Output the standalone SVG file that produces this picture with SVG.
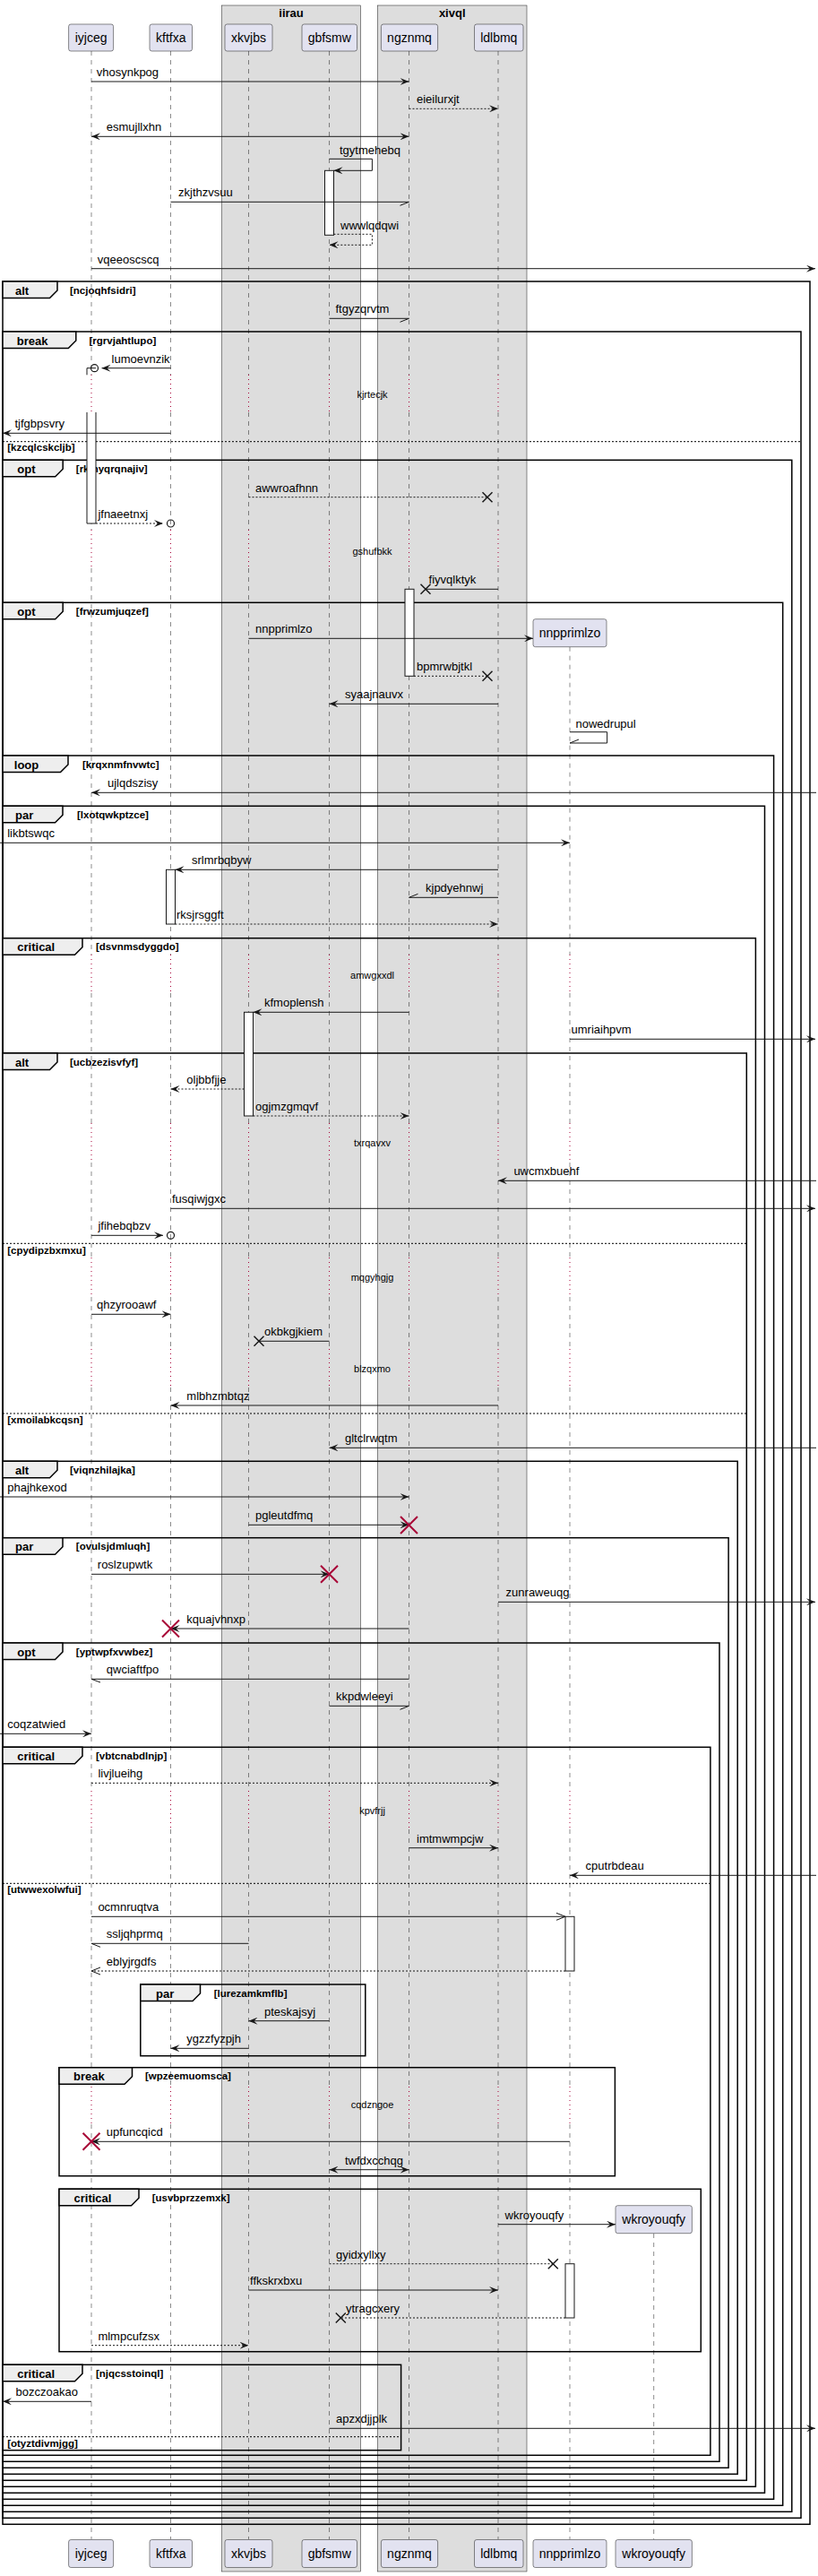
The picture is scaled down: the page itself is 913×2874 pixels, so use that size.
<svg xmlns="http://www.w3.org/2000/svg" width="913" height="2874" viewBox="0 0 913 2874">
<style>
.bg{fill:#fff}
.box{fill:#DDDDDD;stroke:#181818;stroke-width:0.5}
.bt{font-family:"Liberation Sans",Arial,sans-serif;font-size:13px;font-weight:bold;text-anchor:middle;fill:#000}
.ll{fill:none;stroke:#181818;stroke-width:0.5;stroke-dasharray:5,5}
.dl{fill:none;stroke:#A80036;stroke-width:1;stroke-dasharray:1,4}
.pr{fill:#E2E2F0;stroke:#181818;stroke-width:0.5}
.pt{font-family:"Liberation Sans",Arial,sans-serif;font-size:14px;text-anchor:middle;fill:#000}
.fr{fill:none;stroke:#000;stroke-width:1.5}
.tab{fill:#EEEEEE;stroke:#000;stroke-width:1.5}
.tn{font-family:"Liberation Sans",Arial,sans-serif;font-size:13px;font-weight:bold;fill:#000}
.cd{font-family:"Liberation Sans",Arial,sans-serif;font-size:11.5px;font-weight:bold;fill:#000}
.el{fill:none;stroke:#000;stroke-width:1;stroke-dasharray:2,2}
.act{fill:#fff;stroke:#181818;stroke-width:1}
.m{fill:none;stroke:#181818;stroke-width:1}
.d{stroke-dasharray:2,2}
.ml{font-family:"Liberation Sans",Arial,sans-serif;font-size:13px;fill:#000}
.dt{font-family:"Liberation Sans",Arial,sans-serif;font-size:11px;fill:#000;text-anchor:middle}
.x{fill:none;stroke:#181818;stroke-width:1.5}
.dx{fill:none;stroke:#A80036;stroke-width:2}
.ci{fill:none;stroke:#181818;stroke-width:1.2}
</style>
<defs>
<marker id="af" viewBox="0 0 10 8" refX="10" refY="4" markerWidth="10" markerHeight="8" orient="auto-start-reverse" markerUnits="userSpaceOnUse">
<path d="M0,0 L10,4 L0,8 L4,4 Z" fill="#181818"/>
</marker>
<marker id="ao" viewBox="0 0 12 10" refX="11" refY="5" markerWidth="12" markerHeight="10" orient="auto-start-reverse" markerUnits="userSpaceOnUse">
<path d="M1,1 L11,5 L1,9" fill="none" stroke="#181818" stroke-width="1"/>
</marker>
</defs>
<rect class="bg" x="0" y="0" width="913" height="2874"/>

<g id="boxes">
<rect class="box" x="247.5" y="6" width="155" height="2863"/>
<text class="bt" x="325" y="19">iirau</text>
<rect class="box" x="421.3" y="6" width="166.7" height="2863"/>
<text class="bt" x="504.7" y="19">xivql</text>
</g>

<g id="lifelines">
<path class="ll" d="M102,57V418M102,460V591M102,634V1065M102,1108V1253M102,1297V1403M102,1447V1505M102,1548V1998M102,2041V2328M102,2370V2833"/>
<path class="ll" d="M190.5,57V418M190.5,460V591M190.5,634V1065M190.5,1108V1253M190.5,1297V1403M190.5,1447V1505M190.5,1548V1998M190.5,2041V2328M190.5,2370V2833"/>
<path class="ll" d="M277.5,57V418M277.5,460V591M277.5,634V1065M277.5,1108V1253M277.5,1297V1403M277.5,1447V1505M277.5,1548V1998M277.5,2041V2328M277.5,2370V2833"/>
<path class="ll" d="M367.5,57V418M367.5,460V591M367.5,634V1065M367.5,1108V1253M367.5,1297V1403M367.5,1447V1505M367.5,1548V1998M367.5,2041V2328M367.5,2370V2833"/>
<path class="ll" d="M456.5,57V418M456.5,460V591M456.5,634V1065M456.5,1108V1253M456.5,1297V1403M456.5,1447V1505M456.5,1548V1998M456.5,2041V2328M456.5,2370V2833"/>
<path class="ll" d="M556,57V418M556,460V591M556,634V1065M556,1108V1253M556,1297V1403M556,1447V1505M556,1548V1998M556,2041V2328M556,2370V2833"/>
<path class="ll" d="M636,721.7V1065M636,1108V1253M636,1297V1403M636,1447V1505M636,1548V1998M636,2041V2328M636,2370V2833"/>
<path class="ll" d="M729.7,2492V2833"/>
<path class="dl" d="M102,418V460M102,591V634M102,1065V1108M102,1253V1297M102,1403V1447M102,1505V1548M102,1998V2041M102,2328V2370"/>
<path class="dl" d="M190.5,418V460M190.5,591V634M190.5,1065V1108M190.5,1253V1297M190.5,1403V1447M190.5,1505V1548M190.5,1998V2041M190.5,2328V2370"/>
<path class="dl" d="M277.5,418V460M277.5,591V634M277.5,1065V1108M277.5,1253V1297M277.5,1403V1447M277.5,1505V1548M277.5,1998V2041M277.5,2328V2370"/>
<path class="dl" d="M367.5,418V460M367.5,591V634M367.5,1065V1108M367.5,1253V1297M367.5,1403V1447M367.5,1505V1548M367.5,1998V2041M367.5,2328V2370"/>
<path class="dl" d="M456.5,418V460M456.5,591V634M456.5,1065V1108M456.5,1253V1297M456.5,1403V1447M456.5,1505V1548M456.5,1998V2041M456.5,2328V2370"/>
<path class="dl" d="M556,418V460M556,591V634M556,1065V1108M556,1253V1297M556,1403V1447M556,1505V1548M556,1998V2041M556,2328V2370"/>
<path class="dl" d="M636,1065V1108M636,1253V1297M636,1403V1447M636,1505V1548M636,1998V2041M636,2328V2370"/>
</g>

<g id="delays">
<text class="dt" x="415.5" y="444">kjrtecjk</text>
<text class="dt" x="415.5" y="618.5">gshufbkk</text>
<text class="dt" x="415.5" y="1091.5">amwgxxdl</text>
<text class="dt" x="415.5" y="1279">txrqavxv</text>
<text class="dt" x="415.5" y="1429">mqgyhgjg</text>
<text class="dt" x="415.5" y="1530.5">blzqxmo</text>
<text class="dt" x="415.5" y="2024">kpvfrjj</text>
<text class="dt" x="415.5" y="2351.5">cqdzngoe</text>
</g>

<g id="fragments">
<rect class="fr" x="3" y="314" width="901" height="2502.3"/>
<path class="tab" d="M3,314H64V324L55.5,332.5H3Z"/><text class="tn" x="17" y="328.5">alt</text><text class="cd" x="78" y="327.5">[ncjoqhfsidri]</text>

<rect class="fr" x="3" y="370" width="891" height="2439.3"/>
<path class="tab" d="M3,370H84.8V380L76.3,388.5H3Z"/><text class="tn" x="18.7" y="384.5">break</text><text class="cd" x="99.5" y="383.5">[rgrvjahtlupo]</text>
<line class="el" x1="3" y1="492.7" x2="894" y2="492.7"/><text class="cd" x="8.2" y="503">[kzcqlcskcljb]</text>

<rect class="fr" x="3" y="513.3" width="880.8" height="2289"/>
<path class="tab" d="M3,513.3H70.2V523.3L61.7,531.8H3Z"/><text class="tn" x="19.3" y="527.8">opt</text><text class="cd" x="84.8" y="526.8">[rkmyqrqnajiv]</text>

<rect class="fr" x="3" y="672.3" width="870.7" height="2123"/>
<path class="tab" d="M3,672.3H70.2V682.3L61.7,690.8H3Z"/><text class="tn" x="19.3" y="686.8">opt</text><text class="cd" x="84.8" y="685.8">[frwzumjuqzef]</text>

<rect class="fr" x="3" y="843" width="860.6" height="1945.3"/>
<path class="tab" d="M3,843H76V853L67.5,861.5H3Z"/><text class="tn" x="15.8" y="857.5">loop</text><text class="cd" x="91.9" y="856.5">[krqxnmfnvwtc]</text>

<rect class="fr" x="3" y="899.3" width="850.5" height="1882"/>
<path class="tab" d="M3,899.3H70V909.3L61.5,917.8H3Z"/><text class="tn" x="17" y="913.8">par</text><text class="cd" x="86" y="912.8">[lxotqwkptzce]</text>

<rect class="fr" x="3" y="1046.7" width="840.4" height="1727.6"/>
<path class="tab" d="M3,1046.7H92V1056.7L83.5,1065.2H3Z"/><text class="tn" x="19.3" y="1061.2">critical</text><text class="cd" x="107" y="1060.2">[dsvnmsdyggdo]</text>

<rect class="fr" x="3" y="1175" width="830.3" height="1592.3"/>
<path class="tab" d="M3,1175H64V1185L55.5,1193.5H3Z"/><text class="tn" x="17" y="1189.5">alt</text><text class="cd" x="78" y="1188.5">[ucbzezisvfyf]</text>
<line class="el" x1="3" y1="1387.3" x2="833.3" y2="1387.3"/><text class="cd" x="8.2" y="1398.5">[cpydipzbxmxu]</text>
<line class="el" x1="3" y1="1577" x2="833.3" y2="1577"/><text class="cd" x="8.2" y="1588">[xmoilabkcqsn]</text>

<rect class="fr" x="3" y="1630.3" width="820.2" height="1130"/>
<path class="tab" d="M3,1630.3H64V1640.3L55.5,1648.8H3Z"/><text class="tn" x="17" y="1644.8">alt</text><text class="cd" x="78" y="1643.8">[viqnzhilajka]</text>

<rect class="fr" x="3" y="1715.7" width="810.1" height="1037.6"/>
<path class="tab" d="M3,1715.7H70V1725.7L61.5,1734.2H3Z"/><text class="tn" x="17" y="1730.2">par</text><text class="cd" x="84.8" y="1729.2">[ovulsjdmluqh]</text>

<rect class="fr" x="3" y="1833" width="800" height="913.3"/>
<path class="tab" d="M3,1833H70V1843L61.5,1851.5H3Z"/><text class="tn" x="19.3" y="1847.5">opt</text><text class="cd" x="84.8" y="1846.5">[yptwpfxvwbez]</text>

<rect class="fr" x="3" y="1949.3" width="789.9" height="790"/>
<path class="tab" d="M3,1949.3H92V1959.3L83.5,1967.8H3Z"/><text class="tn" x="19.3" y="1963.8">critical</text><text class="cd" x="107" y="1962.8">[vbtcnabdlnjp]</text>
<line class="el" x1="3" y1="2101.3" x2="792.9" y2="2101.3"/><text class="cd" x="8.2" y="2112">[utwwexolwfui]</text>

<rect class="fr" x="156.8" y="2214" width="251" height="79.7"/>
<path class="tab" d="M156.8,2214H223.5V2224L215,2232.5H156.8Z"/><text class="tn" x="174" y="2228.5">par</text><text class="cd" x="238.7" y="2227.5">[lurezamkmflb]</text>

<rect class="fr" x="66" y="2306.7" width="620.4" height="121"/>
<path class="tab" d="M66,2306.7H147.5V2316.7L139,2325.2H66Z"/><text class="tn" x="82" y="2321.2">break</text><text class="cd" x="162" y="2320.2">[wpzeemuomsca]</text>

<rect class="fr" x="66" y="2442.3" width="716.3" height="181.4"/>
<path class="tab" d="M66,2442.3H155V2452.3L146.5,2460.8H66Z"/><text class="tn" x="82.5" y="2456.8">critical</text><text class="cd" x="169.7" y="2455.8">[usvbprzzemxk]</text>

<rect class="fr" x="3" y="2638.3" width="444.6" height="95.4"/>
<path class="tab" d="M3,2638.3H92V2648.3L83.5,2656.8H3Z"/><text class="tn" x="19.3" y="2652.8">critical</text><text class="cd" x="107" y="2651.8">[njqcsstoinql]</text>
<line class="el" x1="3" y1="2718.7" x2="447.6" y2="2718.7"/><text class="cd" x="8.2" y="2730">[otyztdivmjgg]</text>
</g>

<g id="activations">
<rect class="act" x="362.5" y="190.3" width="10" height="72"/>
<path class="act" d="M97,418.3V410.7H107"/>
<path class="act" d="M97,460V584H107V460"/>
<rect class="act" x="452" y="657.3" width="10" height="97"/>
<rect class="act" x="185.5" y="970.3" width="10" height="60.7"/>
<rect class="act" x="272.5" y="1129.3" width="10" height="115.7"/>
<rect class="act" x="631" y="2138.3" width="10" height="60.7"/>
<rect class="act" x="631" y="2525.7" width="10" height="60.3"/>
</g>

<g id="connectors">
<path class="m" d="M102,91H456.5" marker-end="url(#af)"/><text class="ml" x="107.7" y="85">vhosynkpog</text>
<path class="m d" d="M456.5,121.3H556" marker-end="url(#af)"/><text class="ml" x="465" y="115.3">eieilurxjt</text>
<path class="m" d="M102,152.3H456.5" marker-start="url(#af)" marker-end="url(#af)"/><text class="ml" x="118.8" y="146.3">esmujllxhn</text>
<path class="m" d="M367.5,177.3H415.4V190.3H372.5" marker-end="url(#af)"/><text class="ml" x="379" y="172">tgytmehebq</text>
<path class="m" d="M190.5,225.3H456.5M456.5,225.3L446.5,229.3"/><text class="ml" x="199" y="219.3">zkjthzvsuu</text>
<path class="m d" d="M372.5,261.3H415.4V273.3H367.5" marker-end="url(#af)"/><text class="ml" x="380" y="255.5">wwwlqdqwi</text>
<path class="m" d="M102,299.7H910" marker-end="url(#af)"/><text class="ml" x="108.8" y="293.7">vqeeoscscq</text>
<path class="m" d="M367.5,355.3H456.5M456.5,355.3L446.5,359.3"/><text class="ml" x="374.5" y="349.3">ftgyzqrvtm</text>
<path class="m" d="M190.5,410.7H113.5" marker-end="url(#af)"/><circle class="ci" cx="105.5" cy="410.7" r="4"/><text class="ml" x="124.6" y="404.7">lumoevnzik</text>
<path class="m" d="M190.5,483.3H3" marker-end="url(#af)"/><text class="ml" x="16.4" y="477.3">tjfgbpsvry</text>
<path class="m d" d="M277.5,554.7H544"/><path class="x" d="M538.5,549.2L549.5,560.2M549.5,549.2L538.5,560.2"/><text class="ml" x="285" y="548.7">awwroafhnn</text>
<path class="m d" d="M107,584H182" marker-end="url(#af)"/><circle class="ci" cx="190.5" cy="584" r="4"/><text class="ml" x="109.4" y="578">jfnaeetnxj</text>
<path class="m" d="M556,657.3H475"/><path class="x" d="M469.5,651.8L480.5,662.8M480.5,651.8L469.5,662.8"/><text class="ml" x="478.6" y="651.3">fiyvqlktyk</text>
<path class="m" d="M277.5,712.3H595" marker-end="url(#af)"/><text class="ml" x="285" y="706.3">nnpprimlzo</text>
<path class="m d" d="M462,754.3H544"/><path class="x" d="M538.5,748.8L549.5,759.8M549.5,748.8L538.5,759.8"/><text class="ml" x="465" y="748.3">bpmrwbjtkl</text>
<path class="m" d="M556,785.3H367.5" marker-end="url(#af)"/><text class="ml" x="385" y="779.3">syaajnauvx</text>
<path class="m" d="M636,816.7H677.6V829H636M636,829L646,825"/><text class="ml" x="642.5" y="811.5">nowedrupul</text>
<path class="m" d="M911,884.3H102" marker-end="url(#af)"/><text class="ml" x="120" y="878.3">ujlqdszisy</text>
<path class="m" d="M0,940.3H636" marker-end="url(#af)"/><text class="ml" x="8.2" y="934.3">likbtswqc</text>
<path class="m" d="M556,970.3H195.5" marker-end="url(#af)"/><text class="ml" x="214" y="964.3">srlmrbqbyw</text>
<path class="m" d="M556,1001.3H456.5M456.5,1001.3L466.5,997.3"/><text class="ml" x="475" y="995.3">kjpdyehnwj</text>
<path class="m d" d="M195.5,1031H556" marker-end="url(#af)"/><text class="ml" x="197" y="1025">rksjrsggft</text>
<path class="m" d="M456.5,1129.3H282.5" marker-end="url(#af)"/><text class="ml" x="295" y="1123.3">kfmoplensh</text>
<path class="m" d="M636,1159.3H910" marker-end="url(#af)"/><text class="ml" x="637.5" y="1153.3">umriaihpvm</text>
<path class="m d" d="M272.5,1215H190.5" marker-end="url(#af)"/><text class="ml" x="208.3" y="1209">oljbbfjje</text>
<path class="m d" d="M282.5,1245H456.5" marker-end="url(#af)"/><text class="ml" x="285" y="1239">ogjmzgmqvf</text>
<path class="m" d="M911,1317.3H556" marker-end="url(#af)"/><text class="ml" x="573.4" y="1311.3">uwcmxbuehf</text>
<path class="m" d="M190.5,1348.3H910" marker-end="url(#af)"/><text class="ml" x="192" y="1342.3">fusqiwjgxc</text>
<path class="m" d="M102,1378.3H182" marker-end="url(#af)"/><circle class="ci" cx="190.5" cy="1378.3" r="4"/><text class="ml" x="109.4" y="1372.3">jfihebqbzv</text>
<path class="m" d="M102,1466.3H190.5" marker-end="url(#af)"/><text class="ml" x="108" y="1460.3">qhzyrooawf</text>
<path class="m" d="M367.5,1496.3H289"/><path class="x" d="M283.5,1490.8L294.5,1501.8M294.5,1490.8L283.5,1501.8"/><text class="ml" x="295" y="1490.3">okbkgjkiem</text>
<path class="m" d="M556,1568H190.5" marker-end="url(#af)"/><text class="ml" x="208.3" y="1562">mlbhzmbtqz</text>
<path class="m" d="M911,1615.3H367.5" marker-end="url(#af)"/><text class="ml" x="385" y="1609.3">gltclrwqtm</text>
<path class="m" d="M0,1670H456.5" marker-end="url(#af)"/><text class="ml" x="8.2" y="1664">phajhkexod</text>
<path class="m" d="M277.5,1701.3H456.5" marker-end="url(#af)"/><path class="dx" d="M447,1692L466,1711M466,1692L447,1711"/><text class="ml" x="285" y="1695.3">pgleutdfmq</text>
<path class="m" d="M102,1756.3H367.5" marker-end="url(#af)"/><path class="dx" d="M358,1746.8L377,1765.8M377,1746.8L358,1765.8"/><text class="ml" x="108.8" y="1750.3">roslzupwtk</text>
<path class="m" d="M556,1787.3H910" marker-end="url(#af)"/><text class="ml" x="564.6" y="1781.3">zunraweuqg</text>
<path class="m" d="M456.5,1817H190.5" marker-end="url(#af)"/><path class="dx" d="M181,1807.5L200,1826.5M200,1807.5L181,1826.5"/><text class="ml" x="208.3" y="1811">kquajvhnxp</text>
<path class="m" d="M456.5,1873.3H102M102,1873.3L112,1877"/><text class="ml" x="118.8" y="1867.3">qwciaftfpo</text>
<path class="m" d="M367.5,1903.3H456.5M456.5,1903.3L446.5,1907.3"/><text class="ml" x="375" y="1897.3">kkpdwleeyi</text>
<path class="m" d="M0,1934.3H102" marker-end="url(#af)"/><text class="ml" x="8.2" y="1928.3">coqzatwied</text>
<path class="m d" d="M102,1989.3H556" marker-end="url(#af)"/><text class="ml" x="109.4" y="1983.3">livjlueihg</text>
<path class="m" d="M456.5,2061.7H556" marker-end="url(#af)"/><text class="ml" x="465" y="2055.7">imtmwmpcjw</text>
<path class="m" d="M911,2092.3H636" marker-end="url(#af)"/><text class="ml" x="653.6" y="2086.3">cputrbdeau</text>
<path class="m" d="M102,2138.3H631" marker-end="url(#ao)"/><text class="ml" x="109.4" y="2132.3">ocmnruqtva</text>
<path class="m" d="M277.5,2168.3H102M102,2168.3L112,2172.3"/><text class="ml" x="118.8" y="2162.3">ssljqhprmq</text>
<path class="m d" d="M631,2199H102" marker-end="url(#ao)"/><text class="ml" x="118.8" y="2193">eblyjrgdfs</text>
<path class="m" d="M367.5,2254.7H277.5" marker-end="url(#af)"/><text class="ml" x="295" y="2248.7">pteskajsyj</text>
<path class="m" d="M277.5,2285.3H190.5" marker-end="url(#af)"/><text class="ml" x="208.3" y="2279.3">ygzzfyzpjh</text>
<path class="m" d="M636,2389.3H102" marker-end="url(#af)"/><path class="dx" d="M92.5,2379.8L111.5,2398.8M111.5,2379.8L92.5,2398.8"/><text class="ml" x="118.8" y="2383.3">upfuncqicd</text>
<path class="m" d="M367.5,2420.7H456.5" marker-start="url(#af)" marker-end="url(#af)"/><text class="ml" x="385" y="2414.7">twfdxcchqg</text>
<path class="m" d="M556,2481.7H687" marker-end="url(#af)"/><text class="ml" x="563.5" y="2475.7">wkroyouqfy</text>
<path class="m d" d="M367.5,2525.7H617.3"/><path class="x" d="M611.8,2520.2L622.8,2531.2M622.8,2520.2L611.8,2531.2"/><text class="ml" x="375" y="2519.7">gyidxyllxy</text>
<path class="m" d="M277.5,2555H556" marker-end="url(#af)"/><text class="ml" x="279" y="2549">ffkskrxbxu</text>
<path class="m d" d="M631,2586H380.3"/><path class="x" d="M374.8,2580.5L385.8,2591.5M385.8,2580.5L374.8,2591.5"/><text class="ml" x="386" y="2580">ytragcxery</text>
<path class="m d" d="M102,2616.7H277.5" marker-end="url(#af)"/><text class="ml" x="109.4" y="2610.7">mlmpcufzsx</text>
<path class="m" d="M102,2679.3H3" marker-end="url(#af)"/><text class="ml" x="17.5" y="2673.3">bozczoakao</text>
<path class="m" d="M367.5,2709.3H910" marker-end="url(#af)"/><text class="ml" x="375" y="2703.3">apzxdjjplk</text>
</g>

<g id="p-iyjceg"><rect class="pr" x="76.6" y="27" width="50" height="30" rx="2.5"/><text class="pt" x="101.6" y="47">iyjceg</text><rect class="pr" x="76.6" y="2833.5" width="50" height="31" rx="2.5"/><text class="pt" x="101.6" y="2854">iyjceg</text></g>
<g id="p-kftfxa"><rect class="pr" x="167" y="27" width="47.5" height="30" rx="2.5"/><text class="pt" x="190.75" y="47">kftfxa</text><rect class="pr" x="167" y="2833.5" width="47.5" height="31" rx="2.5"/><text class="pt" x="190.75" y="2854">kftfxa</text></g>
<g id="p-xkvjbs"><rect class="pr" x="251" y="27" width="53" height="30" rx="2.5"/><text class="pt" x="277.5" y="47">xkvjbs</text><rect class="pr" x="251" y="2833.5" width="53" height="31" rx="2.5"/><text class="pt" x="277.5" y="2854">xkvjbs</text></g>
<g id="p-gbfsmw"><rect class="pr" x="337" y="27" width="61.5" height="30" rx="2.5"/><text class="pt" x="367.75" y="47">gbfsmw</text><rect class="pr" x="337" y="2833.5" width="61.5" height="31" rx="2.5"/><text class="pt" x="367.75" y="2854">gbfsmw</text></g>
<g id="p-ngznmq"><rect class="pr" x="425.4" y="27" width="63.2" height="30" rx="2.5"/><text class="pt" x="457" y="47">ngznmq</text><rect class="pr" x="425.4" y="2833.5" width="63.2" height="31" rx="2.5"/><text class="pt" x="457" y="2854">ngznmq</text></g>
<g id="p-ldlbmq"><rect class="pr" x="529.5" y="27" width="54.5" height="30" rx="2.5"/><text class="pt" x="556.75" y="47">ldlbmq</text><rect class="pr" x="529.5" y="2833.5" width="54.5" height="31" rx="2.5"/><text class="pt" x="556.75" y="2854">ldlbmq</text></g>
<g id="p-nnpprimlzo"><rect class="pr" x="595" y="690.7" width="82" height="31" rx="2.5"/><text class="pt" x="636" y="711">nnpprimlzo</text><rect class="pr" x="595" y="2833.5" width="82" height="31" rx="2.5"/><text class="pt" x="636" y="2854">nnpprimlzo</text></g>
<g id="p-wkroyouqfy"><rect class="pr" x="687" y="2460.7" width="85.4" height="31" rx="2.5"/><text class="pt" x="729.7" y="2481">wkroyouqfy</text><rect class="pr" x="687" y="2833.5" width="85.4" height="31" rx="2.5"/><text class="pt" x="729.7" y="2854">wkroyouqfy</text></g>
</svg>
